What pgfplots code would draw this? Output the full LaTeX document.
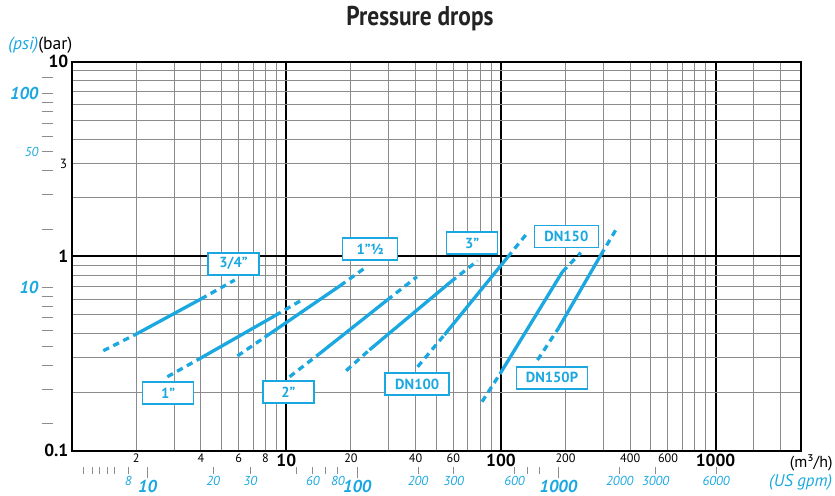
\documentclass[border=0pt]{standalone}
\usepackage{pgfplots}
\pgfplotsset{compat=1.18}
\usepackage{fontspec}
\setmainfont{PT Sans}
\newfontfamily\titlefont[FakeStretch=0.86]{PT Sans}
\definecolor{cy}{RGB}{27,168,224}
\definecolor{gr}{RGB}{140,140,140}
\newcommand\fs[1]{\fontsize{#1}{#1}\selectfont}
\tikzset{sol/.style={cy,line width=1.65pt},
  dsh/.style={cy,line width=1.65pt,dash pattern=on 3.2pt off 2.4pt},
  box/.style={draw=cy,line width=0.75pt,fill=white,text=cy,font=\fs{7.3}\bfseries,
  minimum height=11pt,inner sep=0pt}}
\begin{document}
\begin{tikzpicture}
\path[use as bounding box] (-35.85pt,-22.15pt) rectangle (381.65pt,225.35pt);
% US gpm scale (below)
\begin{axis}[width=364.65pt,height=194.5pt,scale only axis,
  xmode=log,ymode=log,xmin=1,xmax=2500,ymin=0.1,ymax=10,
  anchor=south west,at={(0pt,-8pt)},axis line style={draw=none},ytick=\empty,
  xtick pos=left,tick align=outside,major tick length=3.8pt,
  xtick style={gr,line width=0.5pt},
  xtick={1.132,1.247,1.354,1.464,1.578,1.834,4.557,6.80,11.13,13.30,15.23,17.38,41.1,60.2,115.7,133,151.9,357.7,526,1006.5},
  xticklabels={,,,,,8,20,30,,60,,80,200,300,600,,,2000,3000,6000},
  xticklabel style={font=\fs{6.5}\itshape,text=cy,inner sep=1pt},
  extra x ticks={2.257,21.39,185.3},
  extra x tick labels={10,100,1000},
  extra x tick style={major tick length=5.8pt,tick style={black,line width=1pt},
    xticklabel style={font=\fs{8.6}\bfseries\itshape,text=cy,inner sep=1pt}}]
\end{axis}
% psi scale (left)
\begin{axis}[width=364.65pt,height=194.5pt,scale only axis,
  xmode=log,ymode=log,xmin=1,xmax=2500,ymin=0.1,ymax=10,
  anchor=south west,at={(-9.2pt,0pt)},axis line style={draw=none},xtick=\empty,
  ytick pos=left,tick align=outside,major tick length=5.8pt,
  ytick style={gr,line width=0.5pt},
  ytick={0.13790,0.20684,0.27579,0.34474,0.41369,0.48263,0.55158,0.62053,1.37895,2.06843,2.75790,3.44738,4.13685,4.82633,5.51581,6.20528,8.27371},
  yticklabels={,,,,,,,,,,,50,,,,,},
  yticklabel style={font=\fs{6.5}\itshape,text=cy,inner sep=1.5pt},
  extra y ticks={0.68948,6.89476},
  extra y tick labels={10,100},
  extra y tick style={tick style={black,line width=1pt},
    yticklabel style={font=\fs{8.6}\bfseries\itshape,text=cy,inner sep=1.5pt}}]
\end{axis}
% main axis
\begin{axis}[width=364.65pt,height=194.5pt,scale only axis,
  xmode=log,ymode=log,xmin=1,xmax=2500,ymin=0.1,ymax=10,
  anchor=south west,at={(0pt,0pt)},axis line style={line width=1pt},
  xtick={10,100,1000},xticklabels={10,100,1000},
  ytick={0.1,1,10},yticklabels={0.1,1,10},
  ticklabel style={font=\fs{8.7}\bfseries,inner sep=1.5pt},
  minor xtick={2,3,4,5,6,7,8,9,20,30,40,50,60,70,80,90,200,300,400,500,600,700,800,900,1500,2000},
  minor ytick={0.2,0.3,0.4,0.5,0.6,0.7,0.8,0.9,2,3,4,5,6,7,8,9},
  grid=both,major grid style={black,line width=1pt},minor grid style={gr,line width=0.5pt},
  major tick length=0pt,minor tick length=0pt,
  extra x ticks={2,4,6,8,20,40,60,200,400,600},
  extra x tick labels={2,4,6,8,20,40,60,200,400,600},
  extra x tick style={grid=none,xticklabel style={font=\fs{6.1},inner sep=1.5pt}},
  extra y ticks={3},extra y tick labels={3},
  extra y tick style={grid=none,yticklabel style={font=\fs{6.7},inner sep=2pt}}]
% 3/4"
\addplot[dsh] coordinates {(1.403,0.3266) (2,0.398)};
\addplot[sol] coordinates {(2,0.398) (4,0.6026)};
\addplot[dsh] coordinates {(4,0.6026) (5.75,0.7545)};
% 1"
\addplot[dsh] coordinates {(2.79,0.240) (3.96,0.298)};
\addplot[sol] coordinates {(3.96,0.298) (8.87,0.495)};
\addplot[dsh] coordinates {(8.87,0.495) (11.95,0.60)};
% 1"1/2
\addplot[dsh] coordinates {(5.92,0.307) (7.93,0.383)};
\addplot[sol] coordinates {(7.93,0.383) (17.8,0.705)};
\addplot[dsh] coordinates {(17.8,0.705) (23.8,0.887)};
% 2"
\addplot[dsh] coordinates {(10.36,0.240) (14.2,0.314)};
\addplot[sol] coordinates {(14.2,0.314) (29.5,0.595)};
\addplot[dsh] coordinates {(29.5,0.595) (40.6,0.784)};
% 3"
\addplot[dsh] coordinates {(19.0,0.258) (24.4,0.33)};
\addplot[sol] coordinates {(24.4,0.33) (58.5,0.74)};
\addplot[dsh] coordinates {(58.5,0.74) (77.9,0.948)};
% DN100
\addplot[dsh] coordinates {(40.9,0.270) (54.5,0.394)};
\addplot[sol] coordinates {(54.5,0.394) (107.3,0.987)};
\addplot[dsh] coordinates {(107.3,0.987) (133,1.32)};
% DN150
\addplot[dsh] coordinates {(81.6,0.1786) (98.9,0.248)};
\addplot[sol] coordinates {(98.9,0.248) (193.4,0.832)};
\addplot[dsh] coordinates {(193.4,0.832) (235.5,1.042)};
% DN150P
\addplot[dsh] coordinates {(148,0.2926) (185.3,0.426)};
\addplot[sol] coordinates {(185.3,0.426) (291.9,1.014)};
\addplot[dsh] coordinates {(291.9,1.014) (348.5,1.408)};
\node[box,minimum width=25.5pt] at (axis cs:5.67,0.914) {3/4”};
\node[box,minimum width=25.5pt] at (axis cs:2.814,0.1975) {1”};
\node[box,minimum width=25.5pt] at (axis cs:10.23,0.2) {2”};
\node[box,minimum width=27.5pt] at (axis cs:24.6,1.086) {1”½};
\node[box,minimum width=25.5pt] at (axis cs:73.4,1.166) {3”};
\node[box,minimum width=32pt] at (axis cs:201.7,1.26) {DN150};
\node[box,minimum width=32pt] at (axis cs:40.7,0.2197) {DN100};
\node[box,minimum width=35.5pt] at (axis cs:172.9,0.2372) {DN150P};
\end{axis}
\node[anchor=base,inner sep=0pt,font=\titlefont\fs{13.6}\bfseries,text={rgb,255:red,35;green,35;blue,35}] at (174.15pt,212.6pt) {Pressure drops};
\node[anchor=base west,inner sep=0pt,font=\fs{8.8}] at (-31.85pt,200.85pt) {{\color{cy}\itshape(psi)}(bar)};
\node[anchor=base east,inner sep=0pt,font=\fs{8}] at (380.65pt,-8.15pt) {(m³/h)};
\node[anchor=base east,inner sep=0pt,font=\fs{8.5}\itshape,text=cy] at (380.4pt,-17.9pt) {(US gpm)};
\end{tikzpicture}
\end{document}
